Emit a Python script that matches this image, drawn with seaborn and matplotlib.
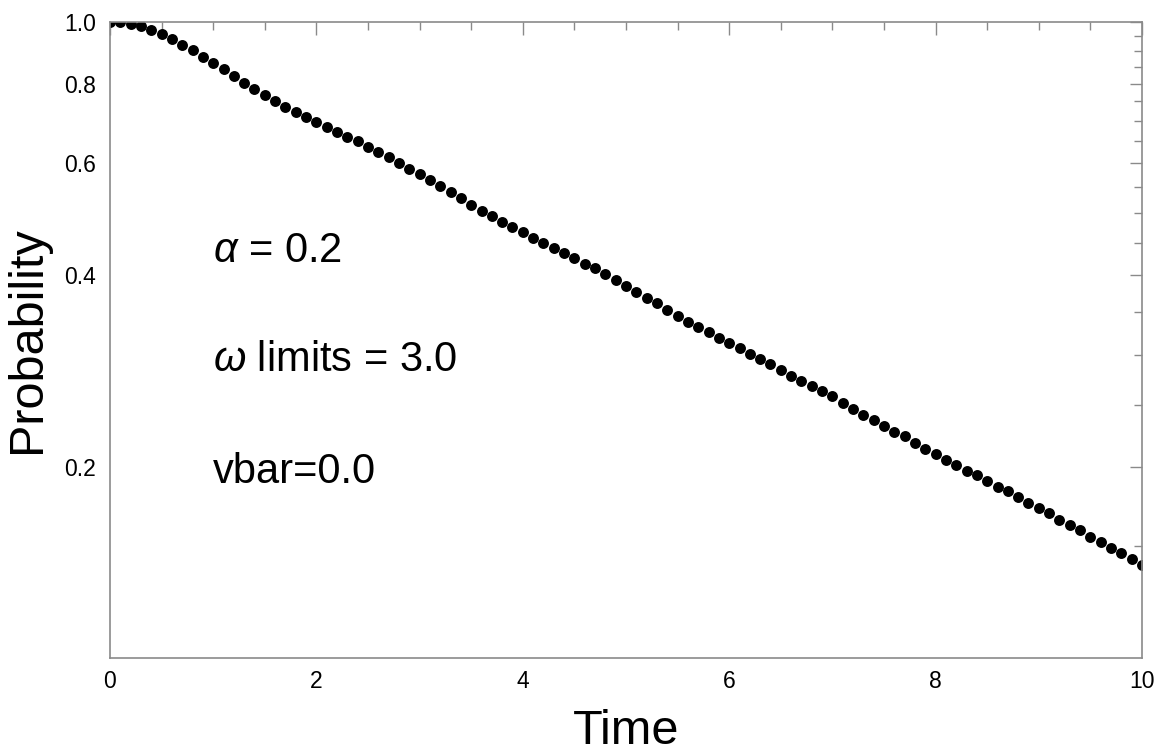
import numpy as np
import pandas as pd
import matplotlib
matplotlib.use("Agg")
import matplotlib.pyplot as plt
import matplotlib.ticker as mticker
import seaborn as sns

# ---- data ----
time = [0.0, 0.1, 0.2, 0.3, 0.4, 0.5, 0.6, 0.7, 0.8, 0.9,
        1.0, 1.1, 1.2, 1.3, 1.4, 1.5, 1.6, 1.7, 1.8, 1.9,
        2.0, 2.1, 2.2, 2.3, 2.4, 2.5, 2.6, 2.7, 2.8, 2.9,
        3.0, 3.1, 3.2, 3.3, 3.4, 3.5, 3.6, 3.7, 3.8, 3.9,
        4.0, 4.1, 4.2, 4.3, 4.4, 4.5, 4.6, 4.7, 4.8, 4.9,
        5.0, 5.1, 5.2, 5.3, 5.4, 5.5, 5.6, 5.7, 5.8, 5.9,
        6.0, 6.1, 6.2, 6.3, 6.4, 6.5, 6.6, 6.7, 6.8, 6.9,
        7.0, 7.1, 7.2, 7.3, 7.4, 7.5, 7.6, 7.7, 7.8, 7.9,
        8.0, 8.1, 8.2, 8.3, 8.4, 8.5, 8.6, 8.7, 8.8, 8.9,
        9.0, 9.1, 9.2, 9.3, 9.4, 9.5, 9.6, 9.7, 9.8, 9.9,
        10.0]
probability = [1.000, 0.999, 0.993, 0.985, 0.972, 0.957, 0.939, 0.921, 0.902, 0.880,
               0.861, 0.843, 0.821, 0.802, 0.785, 0.767, 0.751, 0.736, 0.723, 0.708,
               0.696, 0.683, 0.672, 0.660, 0.650, 0.637, 0.624, 0.613, 0.601, 0.588,
               0.576, 0.564, 0.552, 0.540, 0.528, 0.516, 0.505, 0.495, 0.485, 0.476,
               0.467, 0.457, 0.449, 0.441, 0.434, 0.426, 0.417, 0.410, 0.402, 0.393,
               0.384, 0.376, 0.368, 0.361, 0.353, 0.345, 0.338, 0.331, 0.325, 0.319,
               0.313, 0.307, 0.301, 0.295, 0.290, 0.284, 0.278, 0.273, 0.268, 0.263,
               0.258, 0.252, 0.246, 0.241, 0.237, 0.232, 0.227, 0.223, 0.218, 0.213,
               0.209, 0.205, 0.201, 0.197, 0.194, 0.190, 0.186, 0.183, 0.179, 0.175,
               0.172, 0.169, 0.165, 0.162, 0.159, 0.155, 0.152, 0.149, 0.146, 0.143,
               0.140]

x_major = [0, 2, 4, 6, 8, 10]
x_major_labels = ["0", "2", "4", "6", "8", "10"]
x_minor = [0.5, 1, 1.5, 2.5, 3, 3.5, 4.5, 5, 5.5, 6.5, 7, 7.5, 8.5, 9, 9.5]
y_major = [0.2, 0.4, 0.6, 0.8, 1.0]
y_major_labels = ["0.2", "0.4", "0.6", "0.8", "1.0"]
y_minor = [0.15, 0.25, 0.3, 0.35, 0.45, 0.5, 0.55, 0.65, 0.7, 0.75, 0.85, 0.9, 0.95]
annotations = [r"$\alpha$ = 0.2", r"$\omega$ limits = 3.0", "vbar=0.0"]

df = pd.DataFrame({"Time": time, "Probability": probability})

sns.set_theme(style="white")
plt.rcParams["font.family"] = ["Liberation Sans", "DejaVu Sans"]
plt.rcParams["mathtext.fontset"] = "custom"
plt.rcParams["mathtext.it"] = "Liberation Sans:italic"
plt.rcParams["mathtext.rm"] = "Liberation Sans"

fig = plt.figure(figsize=(11.63, 7.56), dpi=100)
ax = fig.add_axes([110 / 1163, 1 - 658 / 756, (1142 - 110) / 1163, (658 - 22) / 756])

sns.scatterplot(data=df, x="Time", y="Probability", ax=ax, color="black",
                s=62, linewidth=0, legend=False)

ax.set_yscale("log")
ax.set_xlim(0, 10)
ax.set_ylim(0.1, 1.0)

frame_color = "#8a8a8a"
for sp in ax.spines.values():
    sp.set_color(frame_color)
    sp.set_linewidth(1.2)

ax.xaxis.set_major_locator(mticker.FixedLocator(x_major))
ax.xaxis.set_major_formatter(mticker.FixedFormatter(x_major_labels))
ax.xaxis.set_minor_locator(mticker.FixedLocator(x_minor))
ax.yaxis.set_major_locator(mticker.FixedLocator(y_major))
ax.yaxis.set_major_formatter(mticker.FixedFormatter(y_major_labels))
ax.yaxis.set_minor_locator(mticker.FixedLocator(y_minor))
ax.yaxis.set_minor_formatter(mticker.NullFormatter())

ax.tick_params(which="both", direction="in", top=True, right=True,
               color=frame_color, labelcolor="black", labelsize=16.5)
ax.tick_params(which="major", length=9, width=1.0)
ax.tick_params(which="minor", length=5.5, width=1.0)
ax.tick_params(axis="x", which="major", pad=9)
ax.tick_params(axis="y", which="major", pad=10)

ax.set_xlabel("Time", fontsize=35, labelpad=11, color="black")
ax.set_ylabel("Probability", fontsize=35, labelpad=10, color="black")

y_text = [262, 371, 483]
for txt, yp in zip(annotations, y_text):
    fig.text(213 / 1163, 1 - yp / 756, txt, fontsize=30, color="black",
             ha="left", va="baseline")

fig.savefig("out.png", dpi=100)
